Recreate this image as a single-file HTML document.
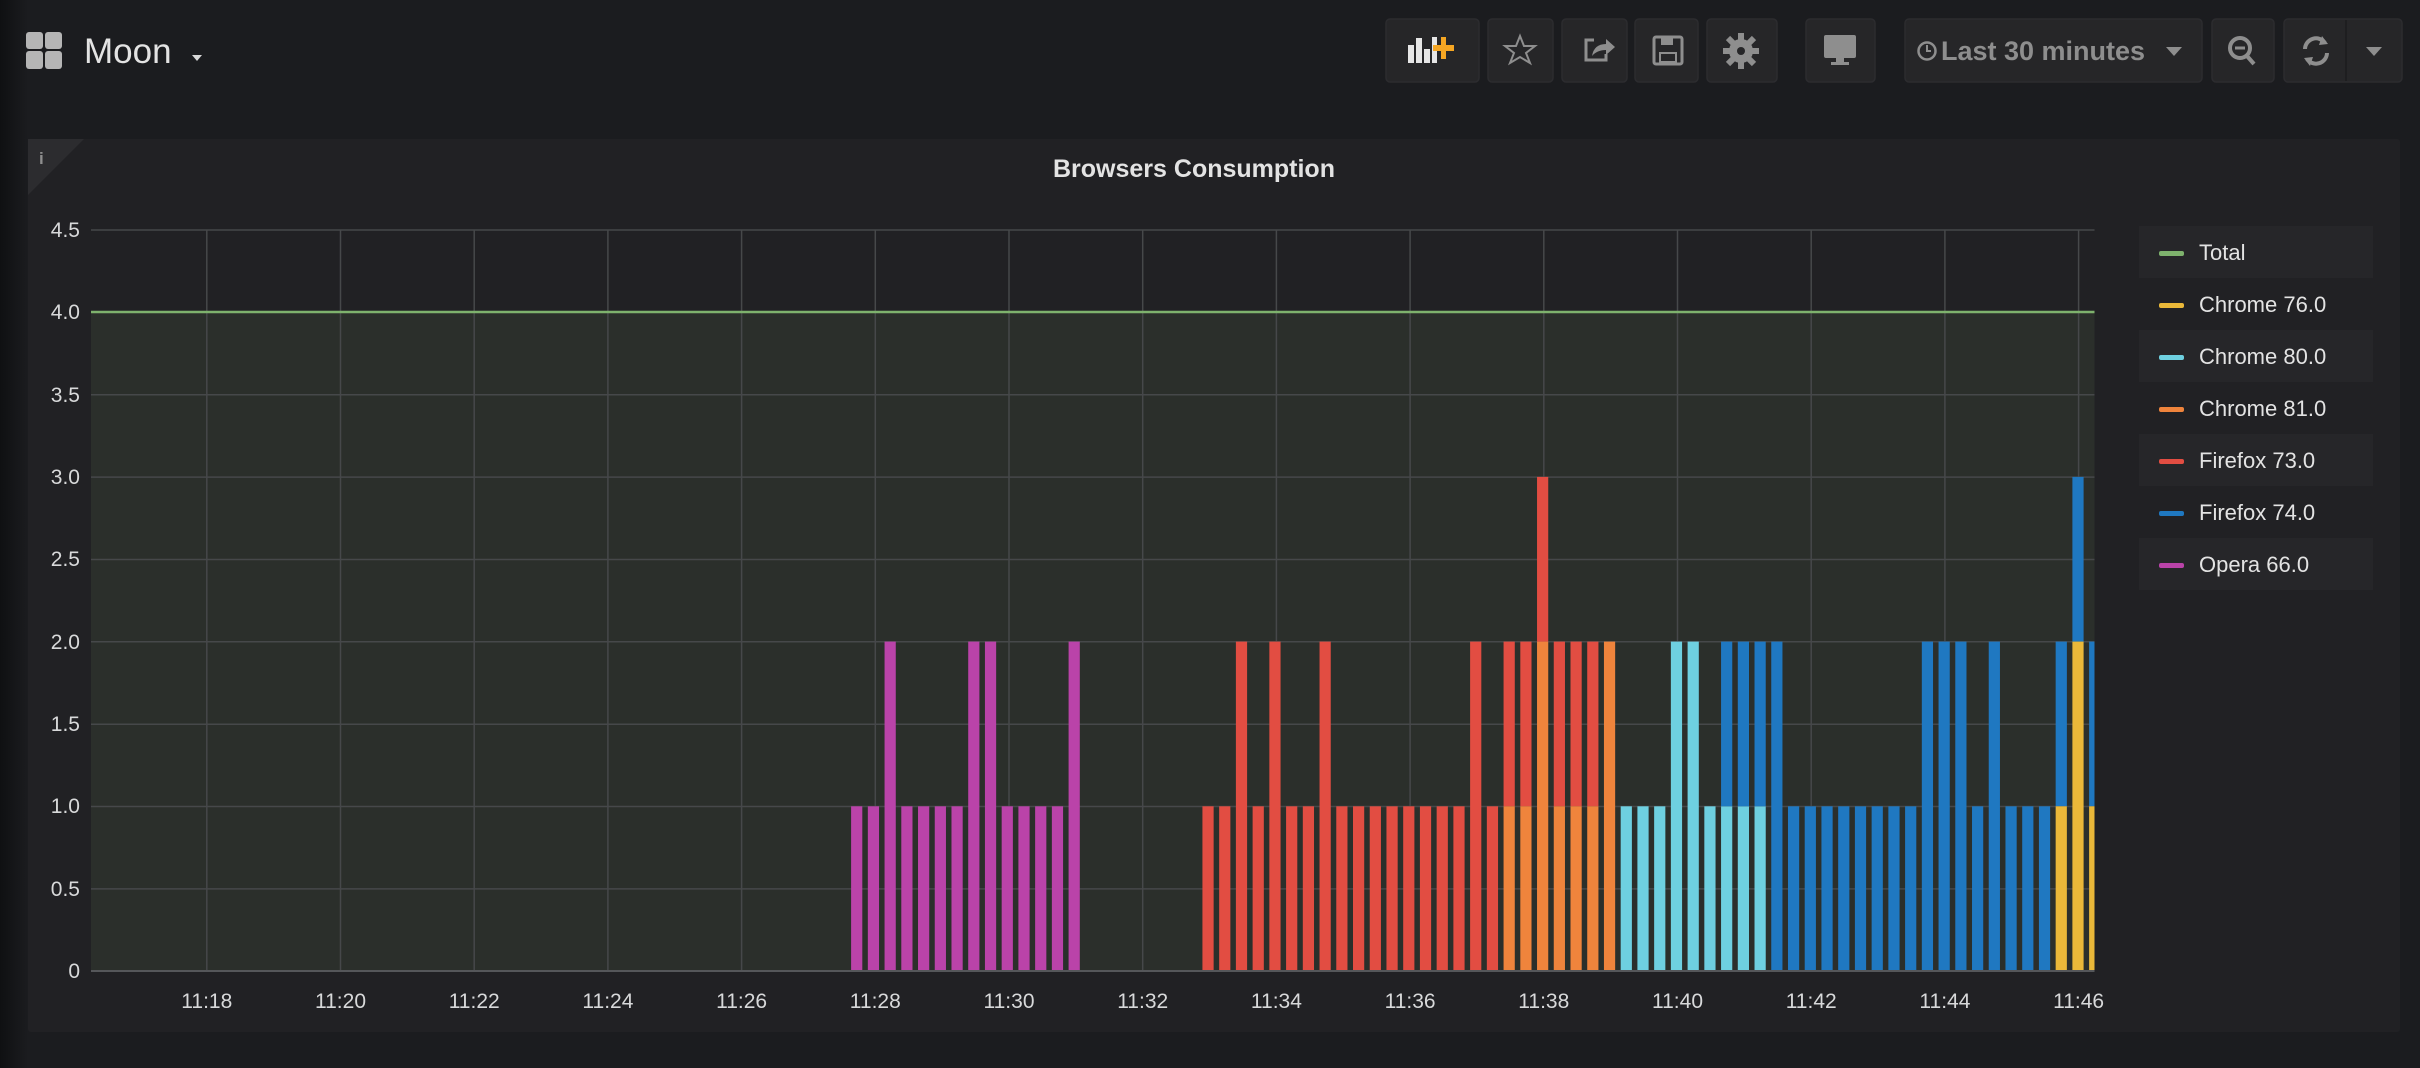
<!DOCTYPE html>
<html><head><meta charset="utf-8"><style>
html,body{margin:0;padding:0;background:#1b1c1f;width:2420px;height:1068px;overflow:hidden;font-family:"Liberation Sans",sans-serif}
</style></head><body>
<svg width="2420" height="1068" viewBox="0 0 2420 1068" xmlns="http://www.w3.org/2000/svg" font-family="Liberation Sans, sans-serif">
<defs>
<linearGradient id="lg" x1="0" x2="1" y1="0" y2="0"><stop offset="0" stop-color="#0f1012"/><stop offset="1" stop-color="#1b1c1f"/></linearGradient>
<clipPath id="cp"><rect x="91" y="200" width="2003.5" height="800"/></clipPath>
</defs>
<rect width="2420" height="1068" fill="#1b1c1f"/>
<rect width="28" height="1068" fill="url(#lg)"/>
<!-- top bar -->
<g fill="#b5b5b5">
<rect x="26" y="32" width="17" height="17" rx="3"/><rect x="45" y="32" width="17" height="17" rx="3"/>
<rect x="26" y="51" width="17" height="18" rx="3"/><rect x="45" y="51" width="17" height="18" rx="3"/>
</g>
<text x="84" y="63" font-size="35" fill="#e3e3e3">Moon</text>
<path d="M192 55 L202 55 L197 61 Z" fill="#d8d8d8"/>
<g fill="#262628" stroke="#2c2c2f" stroke-width="1.5">
<rect x="1386" y="19" width="93" height="63" rx="4"/>
<rect x="1488" y="19" width="65" height="63" rx="4"/>
<rect x="1562" y="19" width="65" height="63" rx="4"/>
<rect x="1635" y="19" width="63" height="63" rx="4"/>
<rect x="1707" y="19" width="70" height="63" rx="4"/>
<rect x="1806" y="19" width="69" height="63" rx="4"/>
<rect x="1905" y="19" width="297" height="63" rx="4"/>
<rect x="2212" y="19" width="62" height="63" rx="4"/>
<rect x="2284" y="19" width="118" height="63" rx="4"/>
</g>
<line x1="2346" y1="20" x2="2346" y2="81" stroke="#1e1e20" stroke-width="2"/>
<!-- icons -->
<g fill="#e6e6e6"><rect x="1408" y="45" width="6" height="18"/><rect x="1416" y="38" width="6" height="25"/><rect x="1424" y="49" width="6" height="14"/><rect x="1432" y="37" width="5" height="26"/></g>
<path d="M1441 37 h5 v8 h8 v6 h-8 v8 h-5 v-8 h-8 v-6 h8 z" fill="#f5a623"/>
<path d="M1520 36 L1524 46 L1535 46 L1526 53 L1530 63 L1520 57 L1510 63 L1514 53 L1505 46 L1516 46 Z" fill="none" stroke="#8e8e8e" stroke-width="2"/>
<path d="M1594 40 h-8 v20 h20 v-6" fill="none" stroke="#8e8e8e" stroke-width="3"/>
<path d="M1592 56 q2 -12 14 -12 v-5 l9 8 -9 8 v-5 q-9 0 -14 6z" fill="#8e8e8e"/>
<rect x="1654" y="37" width="28" height="27" rx="2" fill="none" stroke="#8e8e8e" stroke-width="3"/>
<rect x="1661" y="37" width="12" height="8" fill="#8e8e8e"/><rect x="1660" y="53" width="16" height="9" fill="#262628" stroke="#8e8e8e" stroke-width="2"/>
<circle cx="1741" cy="51" r="12" fill="#8e8e8e"/>
<g stroke="#8e8e8e" stroke-width="6"><line x1="1741" y1="33" x2="1741" y2="69"/><line x1="1723" y1="51" x2="1759" y2="51"/><line x1="1728" y1="38" x2="1754" y2="64"/><line x1="1754" y1="38" x2="1728" y2="64"/></g>
<circle cx="1741" cy="51" r="4" fill="#262628"/>
<rect x="1824" y="35" width="32" height="23" rx="2" fill="#8e8e8e"/><rect x="1836" y="58" width="8" height="5" fill="#8e8e8e"/><rect x="1831" y="62" width="18" height="3" fill="#8e8e8e"/>
<circle cx="1927" cy="51" r="8.5" fill="none" stroke="#8e8e8e" stroke-width="2.5"/><path d="M1927 45 v6 h4" fill="none" stroke="#8e8e8e" stroke-width="2"/>
<text x="1941" y="60" font-size="27" font-weight="bold" fill="#8e8e8e">Last 30 minutes</text>
<path d="M2166 47 L2182 47 L2174 56 Z" fill="#8e8e8e"/>
<circle cx="2240" cy="48" r="10" fill="none" stroke="#8e8e8e" stroke-width="4"/><line x1="2247" y1="56" x2="2254" y2="64" stroke="#8e8e8e" stroke-width="4"/><line x1="2235" y1="48" x2="2245" y2="48" stroke="#8e8e8e" stroke-width="3"/>
<path d="M2305 49 a11 11 0 0 1 20 -6 M2327 53 a11 11 0 0 1 -20 6" fill="none" stroke="#8e8e8e" stroke-width="4"/>
<path d="M2322 36 l6 8 -9 1z M2310 66 l-6 -8 9 -1z" fill="#8e8e8e"/>
<path d="M2366 47 L2382 47 L2374 56 Z" fill="#8e8e8e"/>
<!-- panel -->
<rect x="28" y="139" width="2372" height="893" rx="3" fill="#212124"/>
<path d="M28 139 h56 l-56 56 z" fill="#2c2c2f"/>
<text x="39" y="164" font-size="17" font-weight="bold" fill="#8e8e8e">i</text>
<text x="1194" y="177" font-size="25" font-weight="bold" fill="#e3e3e3" text-anchor="middle">Browsers Consumption</text>
<!-- plot -->
<rect x="91" y="312" width="2003.5" height="659" fill="#2b2f2b"/>
<g stroke="#46484a" stroke-width="1.5">
<line x1="91" y1="230" x2="2094.5" y2="230"/><line x1="91" y1="394.8" x2="2094.5" y2="394.8"/><line x1="91" y1="477.1" x2="2094.5" y2="477.1"/><line x1="91" y1="559.5" x2="2094.5" y2="559.5"/><line x1="91" y1="641.8" x2="2094.5" y2="641.8"/><line x1="91" y1="724.2" x2="2094.5" y2="724.2"/><line x1="91" y1="806.5" x2="2094.5" y2="806.5"/><line x1="91" y1="888.9" x2="2094.5" y2="888.9"/>
<line x1="206.8" y1="230" x2="206.8" y2="971"/><line x1="340.5" y1="230" x2="340.5" y2="971"/><line x1="474.2" y1="230" x2="474.2" y2="971"/><line x1="607.9" y1="230" x2="607.9" y2="971"/><line x1="741.6" y1="230" x2="741.6" y2="971"/><line x1="875.3" y1="230" x2="875.3" y2="971"/><line x1="1009" y1="230" x2="1009" y2="971"/><line x1="1142.7" y1="230" x2="1142.7" y2="971"/><line x1="1276.4" y1="230" x2="1276.4" y2="971"/><line x1="1410.1" y1="230" x2="1410.1" y2="971"/><line x1="1543.8" y1="230" x2="1543.8" y2="971"/><line x1="1677.5" y1="230" x2="1677.5" y2="971"/><line x1="1811.2" y1="230" x2="1811.2" y2="971"/><line x1="1944.9" y1="230" x2="1944.9" y2="971"/><line x1="2078.6" y1="230" x2="2078.6" y2="971"/>
</g>
<g clip-path="url(#cp)"><g transform="translate(851.1 971) scale(16.73 -164.7)">
<g fill="#ba43a9">
<rect x="0" y="0" width="0.67" height="1"/><rect x="1" y="0" width="0.67" height="1"/><rect x="2" y="0" width="0.67" height="2"/><rect x="3" y="0" width="0.67" height="1"/><rect x="4" y="0" width="0.67" height="1"/><rect x="5" y="0" width="0.67" height="1"/><rect x="6" y="0" width="0.67" height="1"/><rect x="7" y="0" width="0.67" height="2"/><rect x="8" y="0" width="0.67" height="2"/><rect x="9" y="0" width="0.67" height="1"/><rect x="10" y="0" width="0.67" height="1"/><rect x="11" y="0" width="0.67" height="1"/><rect x="12" y="0" width="0.67" height="1"/><rect x="13" y="0" width="0.67" height="2"/>
</g>
<g fill="#e24d42">
<rect x="21" y="0" width="0.67" height="1"/><rect x="22" y="0" width="0.67" height="1"/><rect x="23" y="0" width="0.67" height="2"/><rect x="24" y="0" width="0.67" height="1"/><rect x="25" y="0" width="0.67" height="2"/><rect x="26" y="0" width="0.67" height="1"/><rect x="27" y="0" width="0.67" height="1"/><rect x="28" y="0" width="0.67" height="2"/>
<rect x="29" y="0" width="0.67" height="1"/><rect x="30" y="0" width="0.67" height="1"/><rect x="31" y="0" width="0.67" height="1"/><rect x="32" y="0" width="0.67" height="1"/><rect x="33" y="0" width="0.67" height="1"/><rect x="34" y="0" width="0.67" height="1"/><rect x="35" y="0" width="0.67" height="1"/><rect x="36" y="0" width="0.67" height="1"/>
<rect x="37" y="0" width="0.67" height="2"/><rect x="38" y="0" width="0.67" height="1"/>
<rect x="39" y="1" width="0.67" height="1"/><rect x="40" y="1" width="0.67" height="1"/><rect x="41" y="2" width="0.67" height="1"/><rect x="42" y="1" width="0.67" height="1"/><rect x="43" y="1" width="0.67" height="1"/><rect x="44" y="1" width="0.67" height="1"/>
</g>
<g fill="#ef843c">
<rect x="39" y="0" width="0.67" height="1"/><rect x="40" y="0" width="0.67" height="1"/><rect x="41" y="0" width="0.67" height="2"/><rect x="42" y="0" width="0.67" height="1"/><rect x="43" y="0" width="0.67" height="1"/><rect x="44" y="0" width="0.67" height="1"/><rect x="45" y="0" width="0.67" height="2"/>
</g>
<g fill="#6ed0e0">
<rect x="46" y="0" width="0.67" height="1"/><rect x="47" y="0" width="0.67" height="1"/><rect x="48" y="0" width="0.67" height="1"/><rect x="49" y="0" width="0.67" height="2"/><rect x="50" y="0" width="0.67" height="2"/><rect x="51" y="0" width="0.67" height="1"/><rect x="52" y="0" width="0.67" height="1"/><rect x="53" y="0" width="0.67" height="1"/><rect x="54" y="0" width="0.67" height="1"/>
</g>
<g fill="#1f78c1">
<rect x="52" y="1" width="0.67" height="1"/><rect x="53" y="1" width="0.67" height="1"/><rect x="54" y="1" width="0.67" height="1"/><rect x="55" y="0" width="0.67" height="2"/>
<rect x="56" y="0" width="0.67" height="1"/><rect x="57" y="0" width="0.67" height="1"/><rect x="58" y="0" width="0.67" height="1"/><rect x="59" y="0" width="0.67" height="1"/><rect x="60" y="0" width="0.67" height="1"/><rect x="61" y="0" width="0.67" height="1"/><rect x="62" y="0" width="0.67" height="1"/><rect x="63" y="0" width="0.67" height="1"/>
<rect x="64" y="0" width="0.67" height="2"/><rect x="65" y="0" width="0.67" height="2"/><rect x="66" y="0" width="0.67" height="2"/><rect x="67" y="0" width="0.67" height="1"/><rect x="68" y="0" width="0.67" height="2"/><rect x="69" y="0" width="0.67" height="1"/><rect x="70" y="0" width="0.67" height="1"/><rect x="71" y="0" width="0.67" height="1"/>
<rect x="72" y="1" width="0.67" height="1"/><rect x="73" y="2" width="0.67" height="1"/><rect x="74" y="1" width="0.67" height="1"/>
</g>
<g fill="#eab839">
<rect x="72" y="0" width="0.67" height="1"/><rect x="73" y="0" width="0.67" height="2"/><rect x="74" y="0" width="0.67" height="1"/>
</g>
</g></g>
<line x1="91" y1="312" x2="2094.5" y2="312" stroke="#7eb26d" stroke-width="2.5"/>
<line x1="91" y1="971" x2="2094.5" y2="971" stroke="#55575a" stroke-width="2"/>
<g font-size="21" fill="#d8d9da" text-anchor="end">
<text x="80" y="237">4.5</text><text x="80" y="319">4.0</text><text x="80" y="402">3.5</text><text x="80" y="484">3.0</text><text x="80" y="566">2.5</text><text x="80" y="649">2.0</text><text x="80" y="731">1.5</text><text x="80" y="813">1.0</text><text x="80" y="896">0.5</text><text x="80" y="978">0</text>
</g>
<g font-size="21" fill="#d8d9da" text-anchor="middle">
<text x="206.8" y="1008">11:18</text><text x="340.5" y="1008">11:20</text><text x="474.2" y="1008">11:22</text><text x="607.9" y="1008">11:24</text><text x="741.6" y="1008">11:26</text><text x="875.3" y="1008">11:28</text><text x="1009" y="1008">11:30</text><text x="1142.7" y="1008">11:32</text><text x="1276.4" y="1008">11:34</text><text x="1410.1" y="1008">11:36</text><text x="1543.8" y="1008">11:38</text><text x="1677.5" y="1008">11:40</text><text x="1811.2" y="1008">11:42</text><text x="1944.9" y="1008">11:44</text><text x="2078.6" y="1008">11:46</text>
</g>
<!-- legend -->
<g fill="#262629">
<rect x="2139" y="226" width="234" height="52"/><rect x="2139" y="330" width="234" height="52"/><rect x="2139" y="434" width="234" height="52"/><rect x="2139" y="538" width="234" height="52"/>
</g>
<g>
<rect x="2159" y="251" width="25" height="5" rx="2" fill="#7eb26d"/>
<rect x="2159" y="303" width="25" height="5" rx="2" fill="#eab839"/>
<rect x="2159" y="355" width="25" height="5" rx="2" fill="#6ed0e0"/>
<rect x="2159" y="407" width="25" height="5" rx="2" fill="#ef843c"/>
<rect x="2159" y="459" width="25" height="5" rx="2" fill="#e24d42"/>
<rect x="2159" y="511" width="25" height="5" rx="2" fill="#1f78c1"/>
<rect x="2159" y="563" width="25" height="5" rx="2" fill="#ba43a9"/>
</g>
<g font-size="22" fill="#e3e3e3">
<text x="2199" y="260">Total</text><text x="2199" y="312">Chrome 76.0</text><text x="2199" y="364">Chrome 80.0</text><text x="2199" y="416">Chrome 81.0</text><text x="2199" y="468">Firefox 73.0</text><text x="2199" y="520">Firefox 74.0</text><text x="2199" y="572">Opera 66.0</text>
</g>
</svg>
</body></html>
